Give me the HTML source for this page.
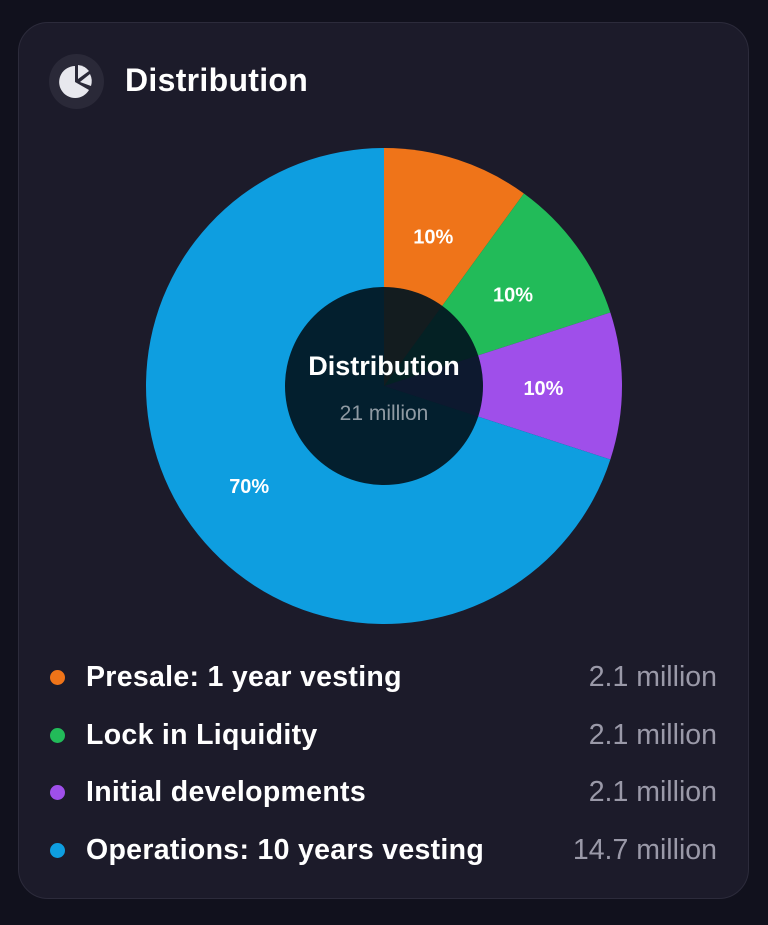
<!DOCTYPE html>
<html><head><meta charset="utf-8">
<style>
html,body{margin:0;padding:0;width:768px;height:925px;background:#11111d;font-family:"Liberation Sans",sans-serif;overflow:hidden}
.card{position:absolute;left:18px;top:22px;width:731px;height:877px;border-radius:30px;background:#1c1b2a;border:1px solid #2c2b3b;box-sizing:border-box}
.icon{position:absolute;left:49px;top:54px;width:55px;height:55px;border-radius:50%;background:#2a2938}
.title{position:absolute;left:125px;top:62px;font-size:32px;color:#fff;font-weight:bold;letter-spacing:0.3px}
.leg{position:absolute;left:0;width:768px;height:40px;font-size:28.5px;font-weight:bold;color:#fff;letter-spacing:0.3px}
.leg .dot{position:absolute;left:50px;top:12px;width:15px;height:15px;border-radius:50%}
.leg .lab{position:absolute;left:86px;top:3px}
.leg .val{position:absolute;right:51px;top:3px;font-weight:normal;color:#9a99a8;letter-spacing:0}
</style></head><body>
<div class="card"></div>
<div class="icon">
<svg width="55" height="55" viewBox="0 0 55 55"><path d="M26 12 A16 16 0 1 0 40 36 L26 28 Z" fill="#e8e8ee"/><path d="M29 11 A16 16 0 0 1 40 17 L29 25 Z" fill="#e8e8ee"/><path d="M41 20 A16 16 0 0 1 42 32 L31 28 Z" fill="#e8e8ee"/></svg>
</div>
<div class="title">Distribution</div>
<svg id="chart" width="768" height="640" style="position:absolute;left:0;top:0"></svg>
<div id="legend"></div>
<script>
const labels=["Presale: 1 year vesting","Lock in Liquidity","Initial developments","Operations: 10 years vesting"];
const values=[10,10,10,70];
const amounts=["2.1 million","2.1 million","2.1 million","14.7 million"];
const colors=["#ef7419","#22bb59","#9f4fea","#0e9ee0"];
const cx=384,cy=386,R=238,r=99;
const svg=document.getElementById('chart');
const NS='http://www.w3.org/2000/svg';
const total=values.reduce((a,b)=>a+b,0);
let a0=0;
values.forEach((v,i)=>{
  const a1=a0+v/total*2*Math.PI;
  const p=(a)=>[cx+R*Math.sin(a),cy-R*Math.cos(a)];
  const [x0,y0]=p(a0),[x1,y1]=p(a1);
  const path=document.createElementNS(NS,'path');
  path.setAttribute('d',`M${cx},${cy} L${x0},${y0} A${R},${R} 0 ${a1-a0>Math.PI?1:0} 1 ${x1},${y1} Z`);
  path.setAttribute('fill',colors[i]);
  
  
  svg.appendChild(path);
  const am=(a0+a1)/2, lr=v>50?0.7*R:0.67*R;
  const t=document.createElementNS(NS,'text');
  t.setAttribute('x',cx+lr*Math.sin(am));
  t.setAttribute('y',cy-lr*Math.cos(am)+9);
  t.setAttribute('text-anchor','middle');
  t.setAttribute('fill','#fff');
  t.setAttribute('font-size','20');
  t.setAttribute('font-weight','bold');
  t.setAttribute('font-family','Liberation Sans, sans-serif');
  t.textContent=v+'%';
  
  
  svg.appendChild(t);
  a0=a1;
});
const c=document.createElementNS(NS,'circle');
c.setAttribute('cx',cx);c.setAttribute('cy',cy);c.setAttribute('r',r);
c.setAttribute('fill','rgba(2,22,32,0.93)');


svg.appendChild(c);
const t1=document.createElementNS(NS,'text');
t1.setAttribute('x',cx);t1.setAttribute('y',375);t1.setAttribute('text-anchor','middle');
t1.setAttribute('fill','#fff');t1.setAttribute('font-size','27');t1.setAttribute('font-weight','bold');
t1.setAttribute('font-family','Liberation Sans, sans-serif');t1.textContent='Distribution';


svg.appendChild(t1);
const t2=document.createElementNS(NS,'text');
t2.setAttribute('x',cx);t2.setAttribute('y',420);t2.setAttribute('text-anchor','middle');
t2.setAttribute('fill','#8f9aa3');t2.setAttribute('font-size','21');
t2.setAttribute('font-family','Liberation Sans, sans-serif');t2.textContent='21 million';


svg.appendChild(t2);
const leg=document.getElementById('legend');
labels.forEach((l,i)=>{
  const d=document.createElement('div');
  d.className='leg';d.style.top=(658+i*57.5)+'px';
  
  
  d.innerHTML=`<div class="dot" style="background:${colors[i]}"></div><div class="lab">${l}</div><div class="val">${amounts[i]}</div>`;
  leg.appendChild(d);
});
</script>
</body></html>
